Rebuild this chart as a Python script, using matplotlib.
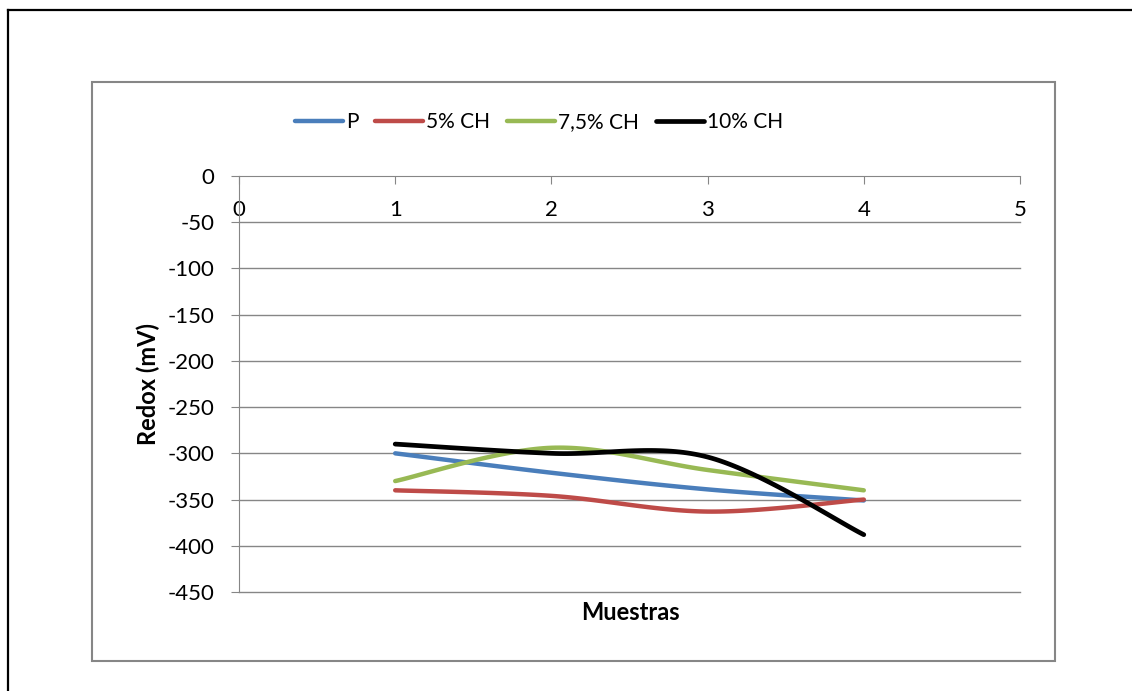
import numpy as np
import matplotlib
matplotlib.use("Agg")
import matplotlib.pyplot as plt
from matplotlib.lines import Line2D
from matplotlib.patches import Rectangle

plt.rcParams['font.family'] = ['Lato', 'DejaVu Sans']
plt.rcParams['axes.unicode_minus'] = False

# datos
muestras = [1, 2, 3, 4]
series = ["P", "5% CH", "7,5% CH", "10% CH"]
p_vals = [-300, -321, -339, -351]
ch5_vals = [-340, -346, -363, -350]
ch75_vals = [-330, -294, -318, -340]
ch10_vals = [-290, -300, -304, -388]
colores = ["#4A7EBB", "#BE4B48", "#98B954", "#000000"]
yticks = [0, -50, -100, -150, -200, -250, -300, -350, -400, -450]
xticks = [0, 1, 2, 3, 4, 5]


# curva suavizada tipo Excel (bezier con puntos de control catmull-rom)
def suavizar(x, y, n=40):
    pts = np.column_stack([x, y]).astype(float)
    ext = np.vstack([pts[0], pts, pts[-1]])
    out = []
    t = np.linspace(0, 1, n)[:, None]
    for i in range(1, len(ext) - 2):
        p0, p1, p2, p3 = ext[i - 1], ext[i], ext[i + 1], ext[i + 2]
        c1 = p1 + (p2 - p0) / 6
        c2 = p2 - (p3 - p1) / 6
        seg = ((1 - t) ** 3) * p1 + 3 * ((1 - t) ** 2) * t * c1 + 3 * (1 - t) * t ** 2 * c2 + t ** 3 * p2
        out.append(seg if i == 1 else seg[1:])
    out = np.vstack(out)
    return out[:, 0], out[:, 1]


W, H = 1132, 691
fs = 15
fig = plt.figure(figsize=(W / 100, H / 100), dpi=100)
ax = fig.add_axes([239 / W, 1 - 592 / H, (1020 - 239) / W, (592 - 176) / H])

gris = "#868686"
for v in yticks[1:]:
    ax.axhline(v, color=gris, lw=1.0, zorder=1, clip_on=False)

for vals, c, lab in zip([p_vals, ch5_vals, ch75_vals, ch10_vals], colores, series):
    xs, ys = suavizar(muestras, vals)
    ax.plot(xs, ys, color=c, lw=3.2 if lab != "10% CH" else 3.4, label=lab,
            solid_capstyle="round", zorder=3)

ax.set_xlim(0, 5)
ax.set_ylim(-450, 0)
ax.set_yticks(yticks)
ax.set_xticks(xticks)
for s in ["top", "right"]:
    ax.spines[s].set_visible(False)
ax.spines["bottom"].set_position(("data", 0))
ax.spines["bottom"].set_color(gris)
ax.spines["left"].set_color(gris)
ax.spines["bottom"].set_zorder(2)
ax.tick_params(axis="y", direction="out", length=5.5, color=gris, labelsize=16, pad=12)
ax.tick_params(axis="x", direction="out", length=5.5, color=gris, labelsize=16, pad=12)

fig.text(148 / W, 1 - 384 / H, "Redox (mV)", rotation=90, fontsize=17, fontweight="bold",
         ha="center", va="center")
fig.text(630 / W, 1 - 613 / H, "Muestras", fontsize=17, fontweight="bold",
         ha="center", va="center")

fig.legend(loc="center", bbox_to_anchor=(539 / W, 1 - 122 / H), ncol=4, frameon=False,
           fontsize=fs, handlelength=2.3, handletextpad=0.15, columnspacing=0.8)

# marco del grafico
fig.add_artist(Rectangle((92 / W, 1 - 661 / H), (1055 - 92) / W, (661 - 82) / H,
                         transform=fig.transFigure, fill=False, edgecolor=gris, lw=1.5))
fig.add_artist(Line2D([8 / W, 8 / W], [0, 1 - 10 / H], transform=fig.transFigure, color="black", lw=1.6))
fig.add_artist(Line2D([8 / W, 1], [1 - 10 / H, 1 - 10 / H], transform=fig.transFigure, color="black", lw=1.6))

fig.savefig("out.png", dpi=100)
